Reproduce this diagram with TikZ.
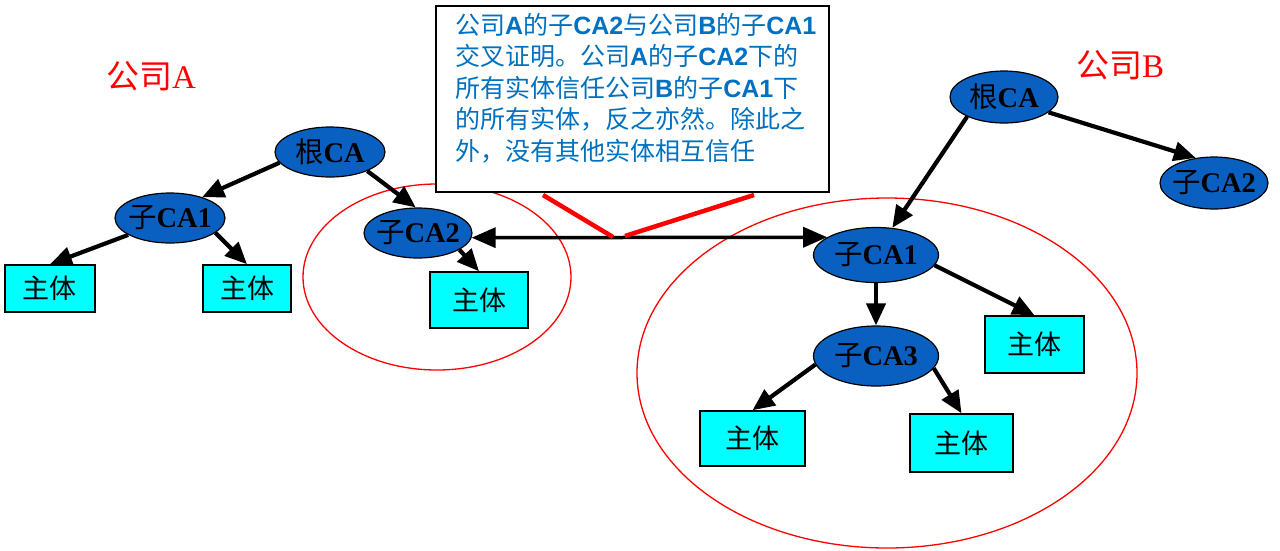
\documentclass[tikz,border=0pt]{standalone}
\usepackage{fontspec}
\setmainfont{Liberation Serif}
\setsansfont{Liberation Sans}
\newfontfamily\cjk{Noto Sans CJK SC}
\usetikzlibrary{shapes.geometric,arrows.meta}
\definecolor{ellblue}{RGB}{10,96,192}
\definecolor{txtblue}{RGB}{0,112,192}
\definecolor{boxcyan}{RGB}{0,255,255}
\newcommand{\lat}[1]{{\sffamily\bfseries #1}}
\newcommand{\subca}[1]{\makebox[0pt]{{\cjk 子}\textbf{#1}}}
\begin{document}
\begin{tikzpicture}[x=1pt,y=-1pt,
  caell/.style={ellipse, draw=black, line width=1.2pt, fill=ellblue, inner sep=0pt, font=\fontsize{28.5}{28.5}\selectfont},
  subj/.style={rectangle, draw=black, line width=1.5pt, fill=boxcyan, inner sep=0pt, font=\cjk\fontsize{27}{27}\selectfont},
  arr/.style={line width=4.2pt, -{Triangle[length=22pt,width=19pt]}},
  dbl/.style={line width=3.5pt, {Triangle[length=24pt,width=20pt]}-{Triangle[length=24pt,width=20pt]}},
  grp/.style={draw=red, line width=1.3pt},
  lab/.style={text=red, font=\fontsize{33}{33}\selectfont},
  link/.style={draw=red, line width=4.5pt},
  ]
\useasboundingbox (0,0) rectangle (1280,550);

% group outlines
\draw[grp] (437,277) ellipse [x radius=134, y radius=93];
\draw[grp] (887,373) ellipse [x radius=250, y radius=175];

% labels
\node[lab] (labA) at (151,76) {{\cjk 公司}A};
\node[lab] (labB) at (1120,65) {{\cjk 公司}B};

% note box
\node[draw=black, line width=1.5pt, fill=white, minimum width=393pt, minimum height=186pt, anchor=north west, inner sep=0pt] (note) at (435,5) {};
\node[anchor=north west, text=txtblue, align=left, inner sep=0pt, font=\cjk\fontsize{25}{31.5}\selectfont] (notetext) at (455,13)
{公司\lat{A}的子\lat{CA2}与公司\lat{B}的子\lat{CA1}\\
交叉证明。公司\lat{A}的子\lat{CA2}下的\\
所有实体信任公司\lat{B}的子\lat{CA1}下\\
的所有实体，反之亦然。除此之\\
外，没有其他实体相互信任};

% company A
\node[caell, minimum width=110pt, minimum height=50pt] (rootA) at (330,152) {\makebox[0pt]{{\cjk 根}\textbf{CA}}};
\node[caell, minimum width=110pt, minimum height=50pt] (ca1a) at (170,218) {\subca{CA1}};
\node[caell, minimum width=108pt, minimum height=50pt] (ca2a) at (418,233) {\subca{CA2}};
\node[subj, minimum width=90pt, minimum height=47pt] (sa1) at (50,288.5) {主体};
\node[subj, minimum width=88pt, minimum height=47pt] (sa2) at (247,288.5) {主体};
\node[subj, minimum width=98pt, minimum height=56pt] (sa3) at (479,300) {主体};

% company B
\node[caell, minimum width=108pt, minimum height=52pt] (rootB) at (1004,97) {\makebox[0pt]{{\cjk 根}\textbf{CA}}};
\node[caell, minimum width=108pt, minimum height=52pt] (ca2b) at (1214,183) {\subca{CA2}};
\node[caell, minimum width=125pt, minimum height=55pt] (ca1b) at (876,255) {\subca{CA1}};
\node[caell, minimum width=125pt, minimum height=60pt] (ca3b) at (876,356) {\subca{CA3}};
\node[subj, minimum width=99pt, minimum height=57pt] (sb1) at (1034.5,344.5) {主体};
\node[subj, minimum width=105pt, minimum height=55pt] (sb2) at (752.5,438.5) {主体};
\node[subj, minimum width=103pt, minimum height=58pt] (sb3) at (961.5,443) {主体};

% connectors
\draw[arr] (rootA.192) -- (ca1a.33);
\draw[arr] (rootA.333) -- (ca2a.95);
\draw[arr] (ca1a.202) -- (sa1.north);
\draw[arr] (ca1a.342) -- (sa2.north);
\draw[arr] (ca2a.338) -- (sa3.north);
\draw[arr] (rootB.208) -- (ca1b.59);
\draw[arr] (rootB.341) -- (ca2b.126);
\draw[arr] (ca1b.south) -- (ca3b.north);
\draw[arr] (ca1b.350) -- (sb1.north);
\draw[arr] (ca3b.188) -- (sb2.north);
\draw[arr] (ca3b.348) -- (sb3.north);
\draw[dbl] (ca2a.-5) -- (ca1b.160);

% callout lines
\coordinate (p1) at (543,195);
\coordinate (p2) at (613,237);
\coordinate (p3) at (625,236);
\coordinate (p4) at (754,195);
\draw[link] (p1) -- (p2);
\draw[link] (p3) -- (p4);
\end{tikzpicture}
\end{document}
